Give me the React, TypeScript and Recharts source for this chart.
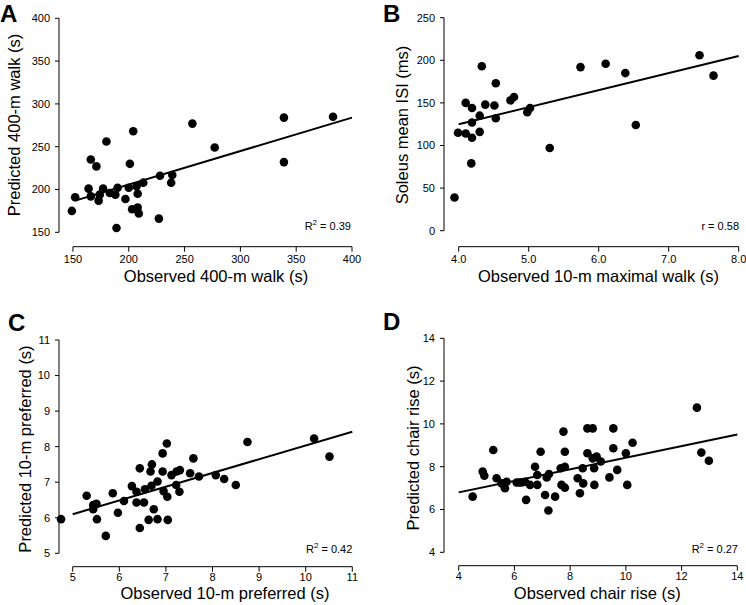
import React from 'react';
import { ScatterChart, Scatter, XAxis, YAxis, ReferenceLine } from 'recharts';

type Pt = { x: number; y: number };
const toPts = (rows: number[][]): Pt[] => rows.map(([x, y]) => ({ x, y }));

// A: 400-m walk, observed vs predicted (s)
const walk400 = toPts([
  [149, 175], [152, 191], [164, 201], [166, 235], [166, 192], [171, 227], [173, 187],
  [174, 194], [177, 201], [180, 256], [183, 196], [188, 194], [190, 202], [189, 155],
  [197, 189], [201, 230], [200, 202], [204, 268], [203, 177], [207, 204], [208, 179],
  [208, 195], [209, 172], [213, 208], [227, 166], [228, 216], [238, 208], [239, 217],
  [257, 277], [277, 249], [339, 284], [339, 232], [383, 285],
]);
const walk400Fit = toPts([[152, 187], [400, 284]]);
const walk400Ticks = [150, 200, 250, 300, 350, 400];

// B: 10-m maximal walk (s) vs soleus mean ISI (ms)
const maxWalk = toPts([
  [3.94, 39], [3.99, 115], [4.1, 114], [4.1, 150], [4.19, 109], [4.18, 79], [4.19, 127],
  [4.19, 144], [4.3, 135], [4.3, 116], [4.33, 193], [4.38, 148], [4.51, 147], [4.53, 173],
  [4.53, 132], [4.74, 153], [4.79, 157], [4.98, 139], [5.02, 144], [5.3, 97], [5.74, 192],
  [6.1, 196], [6.38, 185], [6.53, 124], [7.44, 206], [7.64, 182],
]);
const maxWalkFit = toPts([[4.0, 125], [8.0, 205]]);
const maxWalkXTicks = [4, 5, 6, 7, 8];
const isiTicks = [0, 50, 100, 150, 200, 250];

// C: 10-m preferred walk (s)
const prefWalk = toPts([
  [4.75, 5.96], [5.3, 6.62], [5.44, 6.36], [5.51, 6.39], [5.44, 6.24], [5.52, 5.96],
  [5.71, 5.49], [5.86, 6.69], [5.97, 6.14], [6.1, 6.47], [6.27, 6.89], [6.37, 6.73],
  [6.37, 6.43], [6.44, 7.39], [6.53, 6.43], [6.55, 6.8], [6.44, 5.71], [6.63, 5.94],
  [6.7, 7.5], [6.67, 7.3], [6.74, 6.24], [6.69, 6.9], [6.82, 7.02], [6.82, 5.96],
  [6.93, 7.81], [6.93, 7.3], [6.95, 6.75], [7.02, 8.09], [7.03, 6.59], [7.04, 5.94],
  [7.12, 7.2], [7.22, 6.92], [7.23, 7.3], [7.3, 7.34], [7.29, 6.73], [7.52, 7.25],
  [7.59, 7.67], [7.71, 7.16], [8.07, 7.2], [8.25, 7.09], [8.5, 6.92], [8.75, 8.13],
  [10.18, 8.23], [10.51, 7.72],
]);
const prefWalkFit = toPts([[5, 6.1], [11, 8.42]]);
const prefWalkTicks = [5, 6, 7, 8, 9, 10, 11];

// D: chair rise (s)
const chairRise = toPts([
  [4.5, 6.6], [4.86, 7.77], [4.92, 7.58], [5.24, 8.78], [5.36, 7.46], [5.54, 7.22],
  [5.66, 6.99], [5.72, 7.3], [6.08, 7.26], [6.17, 7.26], [6.26, 7.26], [6.38, 7.3],
  [6.42, 6.45], [6.56, 7.15], [6.74, 8.0], [6.82, 7.61], [6.82, 7.15], [6.94, 8.7],
  [7.1, 6.68], [7.16, 7.5], [7.24, 7.66], [7.22, 5.95], [7.46, 6.6], [7.66, 7.93],
  [7.69, 7.15], [7.81, 7.02], [7.76, 9.64], [7.81, 8.7], [7.81, 8.0], [8.27, 7.46],
  [8.35, 6.76], [8.45, 7.93], [8.47, 7.22], [8.62, 9.79], [8.81, 9.79], [8.62, 8.63],
  [8.81, 8.39], [8.86, 7.93], [8.95, 8.47], [9.1, 8.24], [8.87, 7.15], [9.41, 7.5],
  [9.55, 9.79], [9.55, 8.86], [9.69, 7.85], [10.0, 8.63], [10.24, 9.12], [10.05, 7.15],
  [12.55, 10.76], [12.71, 8.66], [12.98, 8.28],
]);
const chairRiseFit = toPts([[4, 6.8], [14, 9.5]]);
const chairRiseTicks = [4, 6, 8, 10, 12, 14];

const FONT = '"Liberation Sans", Arial, Helvetica, sans-serif';
const Y_W = 40;
const X_H = 24;

const dot = (p: any) => <circle cx={p.cx} cy={p.cy} r={4.3} fill="#000" />;

type Box = { left: number; top: number; width: number; height: number };
type Plot = { left: number; top: number; right: number; bottom: number };

function Panel(props: {
  box: Box;
  plot: Plot;
  xDomain: [number, number];
  yDomain: [number, number];
  xTicks: number[];
  yTicks: number[];
  points: Pt[];
  fit: Pt[];
  xFormat?: (v: number) => string;
  xTickGap?: number;
}) {
  const { box, plot, xDomain, yDomain, xTicks, yTicks, points, fit, xFormat, xTickGap = 3 } = props;
  const margin = {
    top: plot.top,
    right: box.width - plot.right,
    left: plot.left - Y_W,
    bottom: box.height - plot.bottom - X_H,
  };
  const tickStyle = { fontSize: 11, fill: '#000', fontFamily: FONT };
  return (
    <div style={{ position: 'absolute', left: box.left, top: box.top }}>
      <ScatterChart width={box.width} height={box.height} margin={margin}>
        <XAxis
          type="number"
          dataKey="x"
          domain={xDomain}
          ticks={xTicks}
          interval={0}
          axisLine={false}
          tickLine={{ stroke: '#000' }}
          tickSize={5}
          tickMargin={xTickGap}
          tick={tickStyle}
          height={X_H}
          tickFormatter={xFormat}
        />
        <YAxis
          type="number"
          dataKey="y"
          domain={yDomain}
          ticks={yTicks}
          interval={0}
          axisLine={false}
          tickLine={{ stroke: '#000' }}
          tickSize={4}
          tickMargin={5}
          tick={tickStyle}
          width={Y_W}
        />
        <ReferenceLine
          segment={[{ x: xDomain[0], y: yTicks[0] }, { x: xDomain[0], y: yTicks[yTicks.length - 1] }]}
          stroke="#000"
          strokeWidth={1}
          ifOverflow="visible"
        />
        <ReferenceLine
          segment={[{ x: xTicks[0], y: yDomain[0] }, { x: xTicks[xTicks.length - 1], y: yDomain[0] }]}
          stroke="#000"
          strokeWidth={1}
          ifOverflow="visible"
        />
        <Scatter data={points} shape={dot} isAnimationActive={false} />
        <ReferenceLine
          segment={[fit[0], fit[1]]}
          stroke="#000"
          strokeWidth={2}
          ifOverflow="visible"
        />
      </ScatterChart>
    </div>
  );
}

const abs = (s: React.CSSProperties): React.CSSProperties => ({ position: 'absolute', whiteSpace: 'nowrap', ...s });

function XTitle({ cx, baseline, text }: { cx: number; baseline: number; text: string }) {
  return (
    <div style={abs({ left: cx, top: baseline - 11.7, fontSize: 16.5, lineHeight: '12px', transform: 'translateX(-50%)' })}>
      {text}
    </div>
  );
}

function YTitle({ cx, cy, text }: { cx: number; cy: number; text: string }) {
  return (
    <div style={abs({ left: cx, top: cy, fontSize: 16.5, lineHeight: '16.5px', transform: 'translate(-50%, -50%) rotate(-90deg)' })}>
      {text}
    </div>
  );
}

function Letter({ left, top, text }: { left: number; top: number; text: string }) {
  return (
    <div style={abs({ left, top, fontSize: 24, lineHeight: '24px', fontWeight: 'bold' })}>{text}</div>
  );
}

function Stat({ right, baseline, children }: { right: number; baseline: number; children: React.ReactNode }) {
  return (
    <div style={abs({ left: right, top: baseline - 9.3, fontSize: 11, lineHeight: '11px', transform: 'translateX(-100%)' })}>
      {children}
    </div>
  );
}

const sup = (t: string) => <sup style={{ fontSize: 8, lineHeight: 0, verticalAlign: 'super' }}>{t}</sup>;

export default function App() {
  return (
    <div style={{ position: 'absolute', left: 0, top: 0, width: 746, height: 605, background: '#fff', fontFamily: FONT, color: '#000', overflow: 'hidden' }}>
      <Panel
        box={{ left: 0, top: 0, width: 373, height: 300 }}
        plot={{ left: 59, top: 18.3, right: 352, bottom: 246.7 }}
        xDomain={[137.5, 400]}
        yDomain={[133.2, 400]}
        xTicks={walk400Ticks}
        yTicks={walk400Ticks}
        points={walk400}
        fit={walk400Fit}
      />
      <Panel
        box={{ left: 373, top: 0, width: 373, height: 300 }}
        plot={{ left: 71, top: 17.7, right: 365.7, bottom: 246.7 }}
        xDomain={[3.79, 8]}
        yDomain={[-18.8, 250]}
        xTicks={maxWalkXTicks}
        yTicks={isiTicks}
        points={maxWalk}
        fit={maxWalkFit}
        xFormat={(v) => v.toFixed(1)}
      />
      <Panel
        box={{ left: 0, top: 300, width: 373, height: 305 }}
        plot={{ left: 59, top: 40, right: 352.3, bottom: 266.7 }}
        xDomain={[4.706, 11]}
        yDomain={[4.623, 11]}
        xTicks={prefWalkTicks}
        yTicks={prefWalkTicks}
        points={prefWalk}
        fit={prefWalkFit}
        xTickGap={1}
      />
      <Panel
        box={{ left: 373, top: 300, width: 373, height: 305 }}
        plot={{ left: 71, top: 38.3, right: 364.3, bottom: 265.7 }}
        xDomain={[3.472, 14]}
        yDomain={[3.374, 14]}
        xTicks={chairRiseTicks}
        yTicks={chairRiseTicks}
        points={chairRise}
        fit={chairRiseFit}
        xTickGap={1}
      />

      <Letter left={0} top={2} text="A" />
      <Letter left={383} top={2} text="B" />
      <Letter left={8} top={311} text="C" />
      <Letter left={383} top={310} text="D" />

      <XTitle cx={216} baseline={282} text="Observed 400-m walk (s)" />
      <XTitle cx={598.5} baseline={282} text="Observed 10-m maximal walk (s)" />
      <XTitle cx={225} baseline={598.5} text="Observed 10-m preferred (s)" />
      <XTitle cx={597.3} baseline={598.5} text="Observed chair rise (s)" />

      <YTitle cx={13.6} cy={125} text="Predicted 400-m walk (s)" />
      <YTitle cx={402.3} cy={125} text="Soleus mean ISI (ms)" />
      <YTitle cx={25.3} cy={449} text="Predicted 10-m preferred (s)" />
      <YTitle cx={413.3} cy={447.5} text="Predicted chair rise (s)" />

      <Stat right={351} baseline={230}>R{sup('2')} = 0.39</Stat>
      <Stat right={739} baseline={230}>r = 0.58</Stat>
      <Stat right={352.3} baseline={553}>R{sup('2')} = 0.42</Stat>
      <Stat right={738} baseline={553}>R{sup('2')} = 0.27</Stat>
    </div>
  );
}
